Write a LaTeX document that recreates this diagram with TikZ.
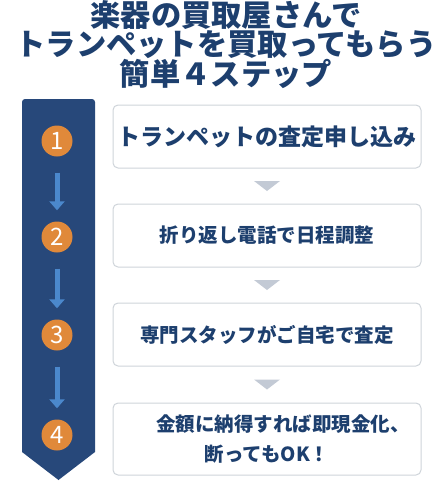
\documentclass[tikz,border=0pt]{standalone}
\usepackage{fontspec}
\usepackage{xcolor}
\usepackage{tikz}
\usetikzlibrary{arrows.meta, positioning, calc}
\newfontfamily\cjk{Noto Sans CJK JP}
\definecolor{navy}{HTML}{1D3F6E}
\definecolor{bandblue}{HTML}{27487A}
\definecolor{numorange}{HTML}{E0893A}
\definecolor{arrowblue}{HTML}{4B88CC}
\definecolor{trigray}{HTML}{C3CAD5}
\definecolor{boxline}{HTML}{CFD4DA}
\tikzstyle{stepbox} = [rectangle, draw=boxline, line width=1pt, rounded corners=5pt, fill=white, minimum width=308pt, minimum height=63pt, align=center, text=navy, font=\cjk\bfseries\fontsize{19.5}{30}\selectfont]
\tikzstyle{numdot} = [circle, fill=numorange, minimum size=31pt, inner sep=0pt, text=white, font=\cjk\fontsize{24}{24}\selectfont]
\tikzstyle{arrow} = [line width=5pt, draw=arrowblue, -{Triangle[width=15pt,length=9pt]}, shorten <=16pt, shorten >=11pt]
\tikzstyle{tri} = [fill=trigray]

\begin{document}
\begin{tikzpicture}[node distance=99pt]
    \useasboundingbox (0,0) rectangle (440pt,-488pt);

    % title
    \node (title) [text=navy, align=center, font=\cjk\bfseries\fontsize{30.3}{28.5}\selectfont] at (226pt,-45pt)
        {楽器の買取屋さんで\\トランペットを買取ってもらう\\簡単４ステップ};

    % band with chevron
    \fill[bandblue] (22pt,-452pt) [rounded corners=3pt] -- (22pt,-99pt) -- (95pt,-99pt) [sharp corners] -- (95pt,-452pt) -- (58.5pt,-480pt) -- cycle;

    % steps
    \node (s1) [stepbox, font=\cjk\bfseries\fontsize{23}{26}\selectfont] at (267pt,-136.5pt) {トランペットの査定申し込み};
    \node (s2) [stepbox, below of=s1] {折り返し電話で日程調整};
    \node (s3) [stepbox, below of=s2] {専門スタッフがご自宅で査定};
    \node (s4) [stepbox, minimum height=72pt, below=36pt of s3] {\hspace*{32pt}金額に納得すれば即現金化、\\断ってもOK！};

    \node (n1) [numdot] at (57pt,-141pt) {1};
    \node (n2) [numdot] at (57pt,-237pt) {2};
    \node (n3) [numdot] at (57pt,-335pt) {3};
    \node (n4) [numdot] at (57pt,-435pt) {4};

    \draw[arrow] (n1) -- (n2);
    \draw[arrow] (n2) -- (n3);
    \draw[arrow] (n3) -- (n4);

    % triangles between boxes
    \foreach \a/\b in {s1/s2, s2/s3, s3/s4}
        \fill[tri] ($(\a.south)!.5!(\b.north)$) ++(-13pt,5pt) -- ++(26pt,0) -- ++(-13pt,-10pt) -- cycle;
\end{tikzpicture}
\end{document}
